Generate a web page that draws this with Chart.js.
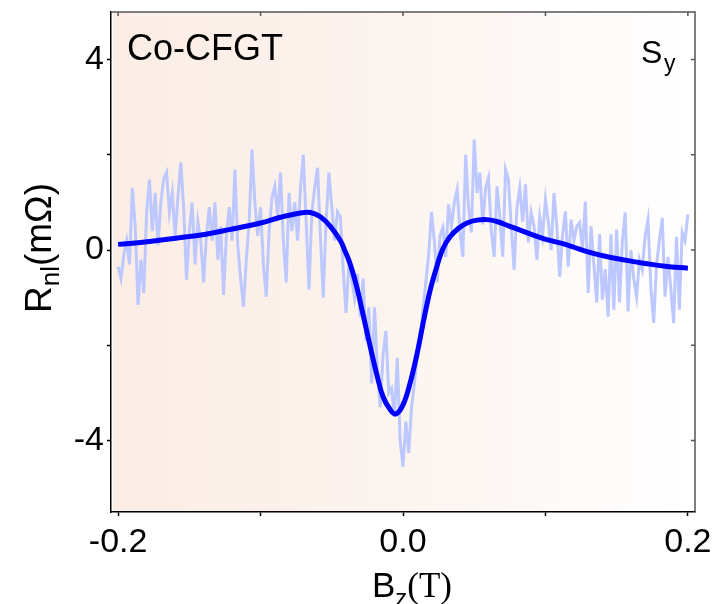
<!DOCTYPE html>
<html>
<head>
<meta charset="utf-8">
<script src="https://cdn.jsdelivr.net/npm/chart.js@4.4.1/dist/chart.umd.min.js"></script>
<style>
  html, body { margin: 0; padding: 0; background: #fff; }
</style>
</head>
<body>
<canvas id="chart" width="717" height="604"></canvas>
<script>
// === DATA ===
// field sweep: -0.2 T .. 0.2 T, one point every 2 mT
const fieldStart = -0.2;
const fieldStep = 0.002;
const rawR = [
  -0.35, -0.6, -0.1, 0.2, -0.3, 1.3, 0.5, -1.15, -0.2, -0.9,
  0.8, 1.48, 0.4, 1.2, 0.1, 1.0, 1.5, 1.63, 0.8, 1.2,
  0.3, 1.1, 1.84, 0.9, -0.62, 0.4, 1.0, -0.3, 0.6, 0.2,
  -0.68, 0.3, 0.9, 0.2, 1.0, -0.2, 0.5, -0.94, 0.3, 0.9,
  0.2, 1.69, 0.1, -0.6, -1.19, -0.2, 0.6, 2.11, 1.0, 0.3,
  0.9, -0.3, -0.98, 0.4, 1.1, 1.34, 0.7, 1.63, 0.2, -0.68,
  1.2, 0.4, 1.0, 0.2, 1.3, 2.0, 0.6, -0.83, 0.8, 1.3,
  1.73, 0.3, -1.0, 0.6, 1.63, 0.9, 0.2, 0.8, 0.7, -0.4,
  -1.32, -0.3, -0.6, -1.0, -0.5, -1.4, -0.6, -1.9, -1.2, -2.8,
  -1.2, -2.5, -3.3, -2.2, -1.7, -3.0, -2.9, -3.5, -2.26, -4.0,
  -4.55, -3.6, -4.26, -3.3, -2.8, -2.2, -1.9, -1.25, -0.68, -0.1,
  0.8, 0.2, -0.68, 0.3, 0.47, -0.14, 0.96, 0.5, 1.0, 1.27,
  0.4, -0.14, 2.0, 0.9, 0.37, 2.32, 1.2, 1.63, 0.54, 1.3,
  1.52, 0.4, -0.14, 1.34, 0.7, -0.14, 1.69, 1.48, 0.5, -0.41,
  0.9, 1.31, 0.6, 1.38, 0.16, 0.79, 0.5, -0.2, 0.7, 0.3,
  1.06, 0.6, 0.0, 1.2, 0.5, -0.56, 0.3, 0.81, -0.35, 0.64,
  0.2, 0.5, 0.58, 0.0, 1.02, -0.9, 0.5, -0.3, -1.1, 0.33,
  -1.04, -0.4, -1.4, 0.33, -1.25, 0.43, -1.1, 0.2, 0.79, -1.29,
  0.0, -0.6, -0.98, -0.2, -0.41, 0.3, 0.64, -0.77, -1.53, -0.3,
  0.2, 0.68, -0.98, -0.14, -0.8, -1.53, 0.28, -1.25, 0.37, 0.2,
  0.75
];
// fitted curve
const fitB = [-0.2, -0.178, -0.157, -0.143, -0.122, -0.1, -0.086, -0.072, -0.065, -0.058,
  -0.051, -0.044, -0.041, -0.037, -0.032, -0.028, -0.023, -0.018, -0.014, -0.009,
  -0.005, 0, 0.005, 0.01, 0.014, 0.019, 0.024, 0.028, 0.033, 0.039,
  0.045, 0.052, 0.059, 0.066, 0.075, 0.084, 0.094, 0.101, 0.114, 0.128,
  0.142, 0.156, 0.17, 0.184, 0.2];
const fitR = [0.12, 0.18, 0.26, 0.31, 0.43, 0.57, 0.69, 0.78, 0.79, 0.7,
  0.5, 0.2, 0.0, -0.3, -0.83, -1.36, -2.03, -2.66, -3.08, -3.35,
  -3.44, -3.25, -2.79, -2.16, -1.55, -0.85, -0.32, 0.03, 0.28, 0.46,
  0.57, 0.63, 0.64, 0.6, 0.5, 0.4, 0.29, 0.22, 0.12, -0.02,
  -0.13, -0.21, -0.28, -0.34, -0.38];

const xTicks = [-0.2, -0.1, 0, 0.1, 0.2];
const xLabels = ['-0.2', '', '0.0', '', '0.2'];
const yTicks = [-4, -2, 0, 2, 4];
const yLabels = ['-4', '', '0', '', '4'];

const SANS = '"Liberation Sans", Arial, sans-serif';
const SERIF = '"Liberation Serif", "Times New Roman", serif';

// === PLUGINS ===
const bgPlugin = {
  id: 'bg',
  beforeDraw(chart) {
    const { ctx, chartArea: a } = chart;
    const g = ctx.createLinearGradient(a.left, 0, a.right, 0);
    g.addColorStop(0, '#fbede4');
    g.addColorStop(0.5, '#fcf4ef');
    g.addColorStop(1, '#ffffff');
    ctx.save();
    ctx.fillStyle = g;
    ctx.fillRect(a.left + 2, a.top, a.right - a.left - 2, a.bottom - a.top);
    ctx.restore();
  }
};

const framePlugin = {
  id: 'frame',
  afterDraw(chart) {
    const { ctx, chartArea: a, scales } = chart;
    ctx.save();
    // top + right spines with inward ticks
    ctx.strokeStyle = '#555';
    ctx.lineWidth = 1.5;
    ctx.beginPath();
    ctx.moveTo(a.left, a.top);
    ctx.lineTo(a.right, a.top);
    ctx.lineTo(a.right, a.bottom);
    xTicks.forEach(v => {
      const px = scales.x.getPixelForValue(v);
      ctx.moveTo(px, a.top);
      ctx.lineTo(px, a.top + 4);
    });
    yTicks.forEach(v => {
      const py = scales.y.getPixelForValue(v);
      ctx.moveTo(a.right, py);
      ctx.lineTo(a.right - 4, py);
    });
    ctx.stroke();

    ctx.fillStyle = '#000';
    ctx.textBaseline = 'alphabetic';
    ctx.textAlign = 'left';
    // panel labels
    ctx.font = '36px ' + SANS;
    ctx.fillText('Co-CFGT', 127, 60);
    ctx.font = '32px ' + SANS;
    ctx.fillText('S', 641, 63);
    ctx.font = '23px ' + SANS;
    ctx.fillText('y', 664, 71);

    // x title: B_z(T)
    ctx.font = '35px ' + SANS;
    const wB = ctx.measureText('B').width;
    ctx.font = '24px ' + SANS;
    const wZ = ctx.measureText('z').width;
    ctx.font = '35px ' + SERIF;
    const wT = ctx.measureText('(T)').width;
    let x0 = 412 - (wB + wZ + wT) / 2;
    ctx.font = '35px ' + SANS;
    ctx.fillText('B', x0, 597);
    ctx.font = '24px ' + SANS;
    ctx.fillText('z', x0 + wB, 606);
    ctx.font = '35px ' + SERIF;
    ctx.fillText('(T)', x0 + wB + wZ, 597);

    // y title: R_nl(mΩ)
    ctx.translate(51, 248);
    ctx.rotate(-Math.PI / 2);
    ctx.font = '37px ' + SANS;
    const wR = ctx.measureText('R').width;
    const wP = ctx.measureText('(mΩ)').width;
    ctx.font = '26px ' + SANS;
    const wN = ctx.measureText('nl').width;
    x0 = -(wR + wN + wP) / 2;
    ctx.font = '37px ' + SANS;
    ctx.fillText('R', x0, 0);
    ctx.font = '26px ' + SANS;
    ctx.fillText('nl', x0 + wR, 8);
    ctx.font = '37px ' + SANS;
    ctx.fillText('(mΩ)', x0 + wR + wN, 0);
    ctx.restore();
  }
};

// === CHART ===
const rawPts = rawR.map((r, i) => ({ x: +(fieldStart + i * fieldStep).toFixed(3), y: r }));
const fitPts = fitB.map((b, i) => ({ x: b, y: fitR[i] }));

new Chart(document.getElementById('chart'), {
  type: 'line',
  data: {
    datasets: [
      { data: rawPts, borderColor: '#bcc8ff', borderWidth: 3, pointRadius: 0, tension: 0, order: 2 },
      { data: fitPts, borderColor: '#0000ff', borderWidth: 5, pointRadius: 0, tension: 0.4, order: 1 }
    ]
  },
  options: {
    responsive: false,
    animation: false,
    layout: { padding: { top: 12, right: 22, left: 0, bottom: 0 } },
    plugins: { legend: { display: false }, tooltip: { enabled: false } },
    scales: {
      x: {
        type: 'linear', min: -0.205, max: 0.205,
        afterBuildTicks: s => { s.ticks = xTicks.map(v => ({ value: v })); },
        afterFit: s => { s.height = 92; s.paddingLeft = 0; s.paddingRight = 0; },
        ticks: {
          callback: (v, i) => xLabels[i],
          font: { family: SANS, size: 34 }, color: '#000',
          padding: 6, maxRotation: 0, autoSkip: false
        },
        grid: { drawOnChartArea: false, tickLength: 4, color: '#000', tickWidth: 1.5 },
        border: { color: '#000', width: 1.5 }
      },
      y: {
        type: 'linear', min: -5.5, max: 5,
        afterBuildTicks: s => { s.ticks = yTicks.map(v => ({ value: v })); },
        afterFit: s => { s.width = 111; s.paddingTop = 0; s.paddingBottom = 0; },
        ticks: {
          callback: (v, i) => yLabels[i],
          font: { family: SANS, size: 34 }, color: '#000',
          padding: 3, autoSkip: false
        },
        grid: { drawOnChartArea: false, tickLength: 4, color: '#000', tickWidth: 1.5 },
        border: { color: '#000', width: 1.5 }
      }
    }
  },
  plugins: [bgPlugin, framePlugin]
});
</script>
</body>
</html>
